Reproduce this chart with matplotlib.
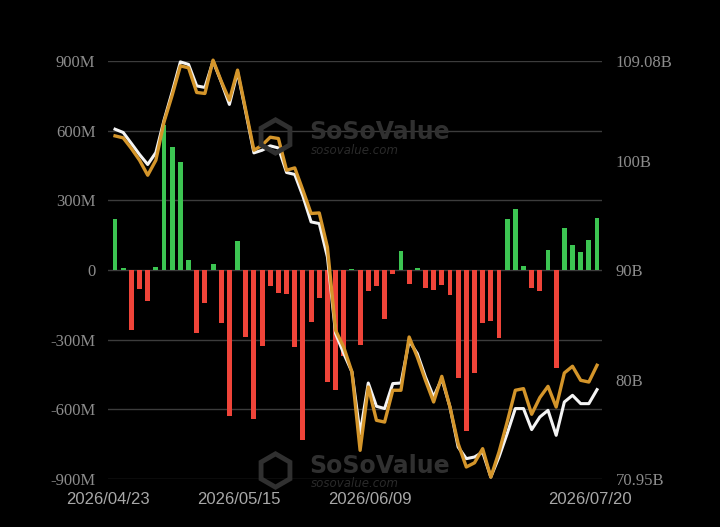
import numpy as np
import pandas as pd
import matplotlib
matplotlib.use("Agg")
import matplotlib.pyplot as plt
from matplotlib.transforms import ScaledTranslation

# trading days 2026/04/23 - 2026/07/20
days = pd.bdate_range("2026-04-23", "2026-07-20")
days = days[~days.isin(pd.to_datetime(["2026-05-25", "2026-06-19", "2026-07-03"]))]
date_labels = [d.strftime("%Y/%m/%d") for d in days]
shown_dates = ["2026/04/23", "2026/05/15", "2026/06/09", "2026/07/20"]

# daily net inflow (M USD)
net_flow = [220, 10, -258, -82, -135, 12, 623, 532, 465, 43,
            -272, -140, 26, -226, -629, 127, -288, -643, -327, -68,
            -100, -104, -330, -730, -224, -121, -480, -516, -372, 5,
            -321, -89, -70, -212, -17, 81, -62, 8, -78, -86,
            -65, -108, -466, -694, -442, -226, -219, -294, 220, 263,
            19, -79, -92, 88, -420, 180, 108, 76, 131, 224]

# total net assets (B USD)
net_assets = [102.87, 102.57, 101.57, 100.56, 99.65, 100.74, 103.69, 106.28, 109.01, 108.78,
              106.82, 106.68, 109.08, 107.19, 105.13, 108.10, 104.45, 100.71, 100.95, 101.35,
              101.16, 98.92, 98.74, 96.76, 94.41, 94.26, 91.21, 84.22, 82.40, 80.72,
              75.09, 79.71, 77.59, 77.38, 79.66, 79.71, 83.55, 82.40, 80.26, 78.44,
              80.11, 77.52, 73.87, 72.81, 72.96, 73.41, 71.13, 72.96, 75.09, 77.38,
              77.38, 75.46, 76.61, 77.22, 74.94, 77.98, 78.59, 77.83, 77.83, 79.11]

# second series (gold line)
market_value = [102.26, 102.08, 101.11, 100.04, 98.67, 100.04, 103.54, 105.98, 108.65, 108.47,
                106.22, 106.13, 109.17, 107.25, 105.52, 108.26, 104.61, 100.95, 101.41, 102.14,
                102.02, 99.13, 99.34, 97.30, 95.18, 95.23, 92.10, 84.52, 82.97, 80.72,
                73.57, 79.35, 76.31, 76.15, 79.05, 79.05, 83.91, 82.09, 79.96, 77.98,
                80.32, 77.52, 74.18, 72.05, 72.43, 73.72, 71.13, 73.41, 76.15, 79.05,
                79.20, 76.86, 78.38, 79.41, 77.52, 80.63, 81.24, 79.96, 79.80, 81.33]

left_ticks = [-900, -600, -300, 0, 300, 600, 900]
left_labels = ["-900M", "-600M", "-300M", "0", "300M", "600M", "900M"]
right_ticks = [70.95, 80, 90, 100, 109.08]
right_labels = ["70.95B", "80B", "90B", "100B", "109.08B"]

bg = "#000000"
fig = plt.figure(figsize=(7.2, 5.27), dpi=100, facecolor=bg)
ax = fig.add_axes([0.15, 0.091, 0.686, 0.793])
ax.set_facecolor(bg)

# watermarks (behind everything)
for y_big, y_small in [(0.749, 0.714), (0.116, 0.083)]:
    fig.text(0.43, y_big, "SoSoValue", color="#303030", fontsize=17,
             fontweight="bold", family="DejaVu Sans", ha="left", va="center", zorder=0)
    fig.text(0.432, y_small, "sosovalue.com", color="#2a2a2a", fontsize=8.5,
             style="italic", family="DejaVu Sans", ha="left", va="center", zorder=0)
    fig.lines.append(plt.Line2D([0.382], [y_big - 0.008], transform=fig.transFigure,
                                marker="h", markersize=24, mfc="none", mec="#303030",
                                mew=3.5, zorder=0))

x = np.arange(len(net_flow))
flow = np.array(net_flow)
colors = np.where(flow >= 0, "#3cc552", "#ef4439")
ax.bar(x, flow, width=0.6, color=colors, zorder=2)

ax.set_xlim(-0.86, 59.6)
ax.set_ylim(-900, 900)
ax.set_yticks(left_ticks)
ax.set_yticklabels(left_labels)
ax.grid(axis="y", color="#3c3c3c", lw=1, zorder=0)
ax.set_axisbelow(True)
ax.patch.set_alpha(0)
for s in ax.spines.values():
    s.set_visible(False)
ax.tick_params(axis="y", length=0, pad=9, labelsize=12, labelcolor="#8c8c8c")
for lab in ax.get_yticklabels():
    lab.set_fontfamily("Liberation Serif")

pos = [date_labels.index(d) for d in shown_dates]
ax.set_xticks(pos)
ax.set_xticklabels(shown_dates)
ax.tick_params(axis="x", length=0, pad=9, labelsize=12, labelcolor="#a8a8a8")
for lab in ax.get_xticklabels():
    lab.set_fontfamily("Liberation Sans")
    lab.set_transform(lab.get_transform() + ScaledTranslation(-5 / 72, 0, fig.dpi_scale_trans))

ax2 = ax.twinx()
ax2.set_ylim(70.95, 109.08)
ax2.plot(x, net_assets, color="#f4f4f4", lw=2.2, zorder=3, clip_on=False)
ax2.plot(x, market_value, color="#d4952a", lw=2.4, zorder=4, clip_on=False)
ax2.set_yticks(right_ticks)
ax2.set_yticklabels(right_labels)
ax2.tick_params(axis="y", length=0, pad=10, labelsize=12, labelcolor="#8c8c8c")
for lab in ax2.get_yticklabels():
    lab.set_fontfamily("Liberation Serif")
for s in ax2.spines.values():
    s.set_visible(False)

fig.savefig("out.png", dpi=100, facecolor=bg)
